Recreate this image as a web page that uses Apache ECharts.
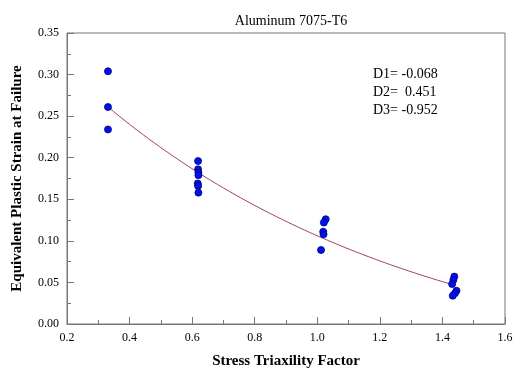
<!DOCTYPE html>
<html>
<head>
<meta charset="utf-8">
<script src="https://cdn.jsdelivr.net/npm/echarts@6/dist/echarts.min.js"></script>
<style>
html,body{margin:0;padding:0;background:#fff;}
#chart{width:521px;height:368px;}
</style>
</head>
<body>
<div id="chart"></div>
<script>
// Measured fracture strains (stress triaxiality, equivalent plastic strain)
const triaxiality = [0.331, 0.331, 0.331,
  0.619, 0.619, 0.620, 0.620, 0.618, 0.619, 0.620,
  1.027, 1.021, 1.019, 1.020, 1.012,
  1.438, 1.435, 1.431, 1.445, 1.440, 1.433];
const strain = [0.304, 0.261, 0.234,
  0.196, 0.186, 0.182, 0.179, 0.169, 0.166, 0.158,
  0.126, 0.122, 0.111, 0.108, 0.089,
  0.057, 0.053, 0.048, 0.040, 0.037, 0.034];

// Johnson-Cook damage constants
const D1 = -0.068, D2 = 0.451, D3 = -0.952;
const fitRange = [0.33, 1.44];

const xTicks = [0.2, 1.6, 0.2];
const yTicks = [0, 0.35, 0.05];

const points = triaxiality.map((x, i) => [x, strain[i]]);
const fit = [];
for (let k = 0; k <= 60; k++) {
  const s = fitRange[0] + (fitRange[1] - fitRange[0]) * k / 60;
  fit.push([s, D1 + D2 * Math.exp(D3 * s)]);
}

const serif = '"Liberation Serif", "Times New Roman", serif';
const axisGrey = '#777';

const chart = echarts.init(document.getElementById('chart'), null, {renderer: 'canvas'});
chart.setOption({
  animation: false,
  backgroundColor: '#fff',
  title: {
    text: 'Aluminum 7075-T6',
    left: 286, top: 9, textAlign: 'center',
    textStyle: {fontFamily: serif, fontSize: 14, fontWeight: 'normal', color: '#000'}
  },
  grid: {
    left: 67, right: 16, top: 33, bottom: 44, containLabel: false, outerBoundsMode: 'none',
    show: true, borderColor: axisGrey, borderWidth: 1
  },
  xAxis: {
    type: 'value', min: xTicks[0], max: xTicks[1], interval: xTicks[2],
    name: 'Stress Triaxility Factor', nameLocation: 'middle', nameGap: 30,
    nameTextStyle: {fontFamily: serif, fontSize: 15, fontWeight: 'bold', color: '#000'},
    axisLine: {lineStyle: {color: axisGrey}},
    axisTick: {inside: true, length: 7, lineStyle: {color: axisGrey}},
    minorTick: {show: true, splitNumber: 2, length: 4, lineStyle: {color: axisGrey}},
    splitLine: {show: false},
    axisLabel: {fontFamily: serif, fontSize: 12, color: '#000', margin: 8, formatter: v => v.toFixed(1)}
  },
  yAxis: {
    type: 'value', min: yTicks[0], max: yTicks[1], interval: yTicks[2],
    name: 'Equivalent Plastic Strain at Failure', nameLocation: 'middle', nameGap: 42,
    nameTextStyle: {fontFamily: serif, fontSize: 15, fontWeight: 'bold', color: '#000'},
    axisLine: {show: true, lineStyle: {color: axisGrey}},
    axisTick: {show: true, inside: true, length: 7, lineStyle: {color: axisGrey}},
    minorTick: {show: true, splitNumber: 2, length: 4, lineStyle: {color: axisGrey}},
    splitLine: {show: false},
    axisLabel: {fontFamily: serif, fontSize: 12, color: '#000', margin: 8, formatter: v => v.toFixed(2)}
  },
  graphic: [{
    type: 'text', left: 373, top: 65, z: 10,
    style: {
      text: 'D1= -0.068\nD2=  0.451\nD3= -0.952',
      font: '14px ' + serif, fill: '#000', lineHeight: 18
    }
  }],
  series: [{
    type: 'line', data: fit, showSymbol: false, smooth: false,
    lineStyle: {color: '#a3406b', width: 1}, z: 2
  }, {
    type: 'scatter', data: points, symbolSize: 7,
    itemStyle: {color: '#0010f0', borderColor: '#000070', borderWidth: 0.8, opacity: 1}, z: 3
  }]
});
</script>
</body>
</html>
